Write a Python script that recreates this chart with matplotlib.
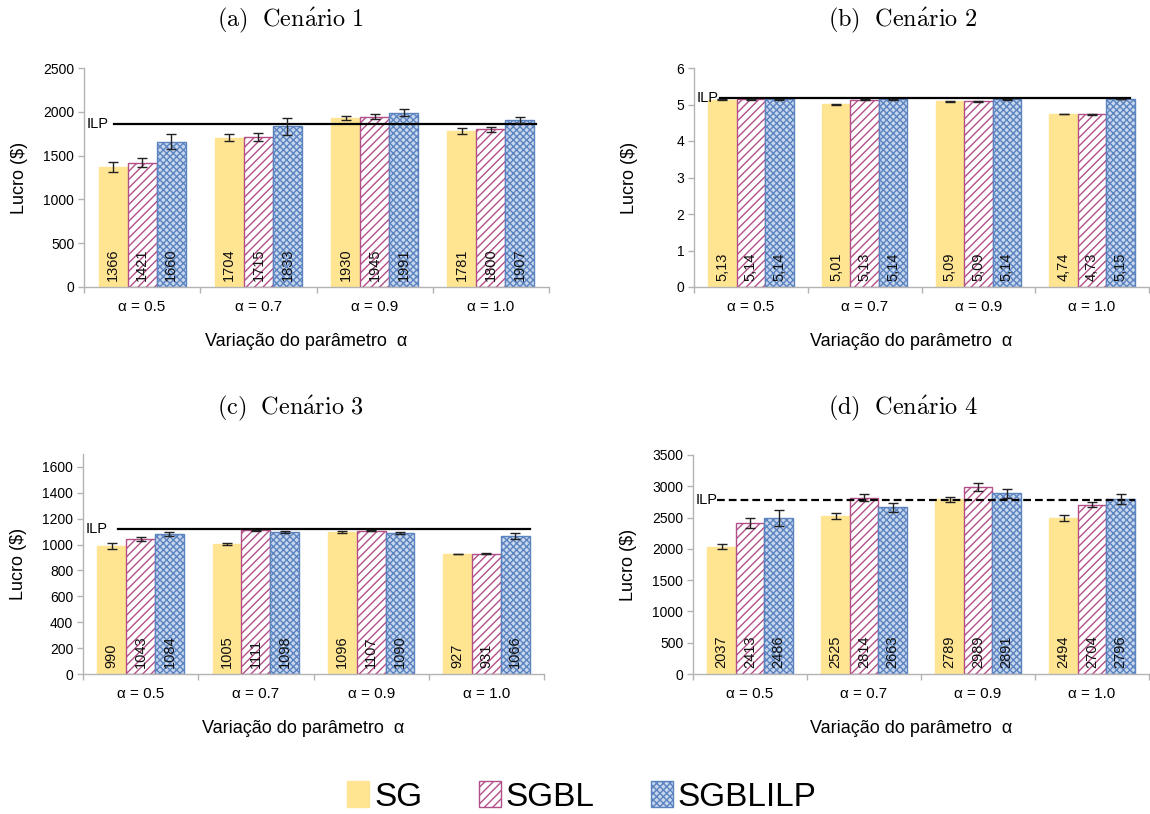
import matplotlib
matplotlib.use("Agg")
import numpy as np
import matplotlib.pyplot as plt
from matplotlib.patches import Patch

plt.rcParams['font.family'] = ['Liberation Sans', 'DejaVu Sans']
plt.rcParams['mathtext.fontset'] = 'cm'
plt.rcParams['hatch.linewidth'] = 1.0

alphas = ['α = 0.5', 'α = 0.7', 'α = 0.9', 'α = 1.0']
series = ['SG', 'SGBL', 'SGBLILP']

# cenario 1
c1_sg      = [1366, 1704, 1930, 1781]
c1_sgbl    = [1421, 1715, 1945, 1800]
c1_sgblilp = [1660, 1833, 1991, 1907]
c1_err = [[57, 42, 25, 38], [51, 44, 30, 28], [90, 99, 40, 38]]
c1_ilp = 1860

# cenario 2
c2_sg      = [5.13, 5.01, 5.09, 4.74]
c2_sgbl    = [5.14, 5.13, 5.09, 4.73]
c2_sgblilp = [5.14, 5.14, 5.14, 5.15]
c2_err = [[0.01, 0.01, 0.01, 0.01], [0.01, 0.01, 0.01, 0.01], [0.01, 0.01, 0.01, 0.01]]
c2_ilp = 5.18

# cenario 3
c3_sg      = [990, 1005, 1096, 927]
c3_sgbl    = [1043, 1111, 1107, 931]
c3_sgblilp = [1084, 1098, 1090, 1066]
c3_err = [[22, 9, 8, 3], [15, 5, 5, 3], [17, 5, 10, 25]]
c3_ilp = 1120

# cenario 4
c4_sg      = [2037, 2525, 2789, 2494]
c4_sgbl    = [2413, 2814, 2989, 2704]
c4_sgblilp = [2486, 2663, 2891, 2796]
c4_err = [[45, 48, 40, 53], [80, 56, 59, 40], [128, 75, 72, 80]]
c4_ilp = 2780

W, H = 1150, 814
fig = plt.figure(figsize=(W / 100, H / 100), dpi=100)

styles = [
    dict(facecolor='#ffe592', edgecolor='#ffe592', hatch=None),
    dict(facecolor='white', edgecolor='#b24f88', hatch='////'),
    dict(facecolor='#c9d7ee', edgecolor='#5a83bf', hatch='xxxxx'),
]
GREY = '#b3b3b3'


def px_axes(left, right, top, bottom):
    return fig.add_axes([left / W, 1 - bottom / H, (right - left) / W, (bottom - top) / H])


def panel(box, values, errs, ilp, ymax, ystep, yticks_max, line_x, fmt, dashed=False):
    ax = px_axes(*box)
    w_px = box[1] - box[0]
    h_px = box[3] - box[2]
    x = np.arange(len(alphas))
    width = 0.25
    for i, (vals, err) in enumerate(zip(values, errs)):
        pos = x + (i - 1) * width
        ax.bar(pos, vals, width, linewidth=1.0, zorder=2, **styles[i])
        ax.errorbar(pos, vals, yerr=err, fmt='none', ecolor='#222222',
                    elinewidth=1.0, capsize=3.5, capthick=1.0, zorder=4)
        for xp, v in zip(pos, vals):
            ax.annotate(fmt(v), (xp, 0), xytext=(0, 4), textcoords='offset points',
                        rotation=90, ha='center', va='bottom', fontsize=10.5,
                        color='#111111', zorder=5)
    ls = (0, (3.5, 1.8)) if dashed else '-'
    ax.plot(line_x, [ilp, ilp], color='black', lw=1.6, ls=ls, zorder=3)
    ax.text(0.006, ilp, 'ILP', transform=ax.get_yaxis_transform(),
            ha='left', va='center', fontsize=10.5, zorder=5)

    ax.set_xlim(-0.5, len(alphas) - 0.5)
    ax.set_ylim(0, ymax)
    ax.set_yticks(np.arange(0, yticks_max + ystep / 2, ystep))
    ax.set_xticks(x)
    ax.set_xticklabels(alphas, fontsize=11)
    ax.set_xticks(np.arange(-0.5, len(alphas)), minor=True)
    ax.tick_params(axis='x', which='major', length=0, pad=9.5)
    ax.tick_params(axis='x', which='minor', length=4, color=GREY, width=1)
    ax.tick_params(axis='y', length=4, color=GREY, width=1, labelsize=10, pad=3)
    for s in ['top', 'right']:
        ax.spines[s].set_visible(False)
    for s in ['left', 'bottom']:
        ax.spines[s].set_color(GREY)
        ax.spines[s].set_linewidth(1.0)
    ax.set_ylabel('Lucro ($)', fontsize=13)
    ax.yaxis.set_label_coords(-56 / w_px, 0.5)
    ax.set_xlabel('Variação do parâmetro  α', fontsize=13)
    ax.xaxis.set_label_coords(0.5 - 10 / w_px, -46 / h_px)
    return ax


int_fmt = lambda v: f'{v:.0f}'
dec_fmt = lambda v: f'{v:.2f}'.replace('.', ',')

panel((84, 549, 68, 287), [c1_sg, c1_sgbl, c1_sgblilp], c1_err, c1_ilp,
      2500, 500, 2500, [-0.24, 3.385], int_fmt)
panel((694, 1149, 68, 287), [c2_sg, c2_sgbl, c2_sgblilp], c2_err, c2_ilp,
      6, 1, 6, [-0.27, 3.33], dec_fmt)
panel((83, 544, 454, 674), [c3_sg, c3_sgbl, c3_sgblilp], c3_err, c3_ilp,
      1700, 200, 1600, [-0.2, 3.38], int_fmt)
panel((693, 1149, 455, 674), [c4_sg, c4_sgbl, c4_sgblilp], c4_err, c4_ilp,
      3500, 500, 3500, [-0.29, 3.38], int_fmt, dashed=True)

titles = [(r'$\mathrm{(a)\ \ Cen\acute{a}rio\ 1}$', 290, 20),
          (r'$\mathrm{(b)\ \ Cen\acute{a}rio\ 2}$', 903, 20),
          (r'$\mathrm{(c)\ \ Cen\acute{a}rio\ 3}$', 290, 408),
          (r'$\mathrm{(d)\ \ Cen\acute{a}rio\ 4}$', 903, 408)]
for txt, xc, yc in titles:
    fig.text(xc / W, 1 - yc / H, txt, ha='center', va='center', fontsize=17.5)

handles = [Patch(linewidth=1.0, **st) for st in styles]
fig.legend(handles, series, loc='center', bbox_to_anchor=(582 / W, 1 - 797 / H),
           ncol=3, frameon=False, fontsize=24, handlelength=0.65, handleheight=0.8,
           handletextpad=0.15, columnspacing=1.7, borderaxespad=0)

fig.savefig('out.png', dpi=100)
